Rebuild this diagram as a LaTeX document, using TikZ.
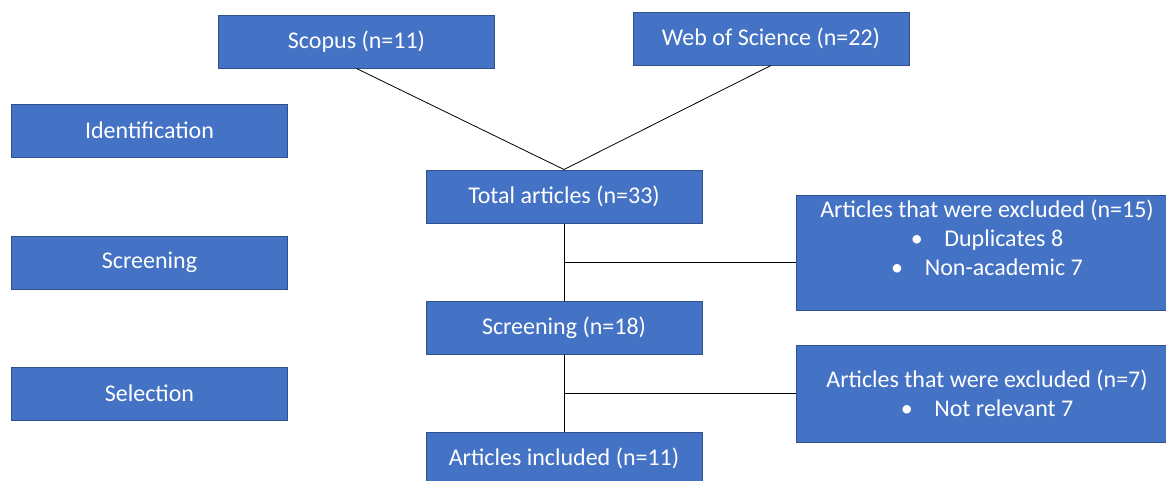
\documentclass[tikz,border=0pt]{standalone}
\usepackage{fontspec}
\setmainfont{Carlito}
\usetikzlibrary{calc}
\definecolor{boxfill}{HTML}{4472C4}
\definecolor{boxline}{HTML}{2F528F}
\begin{document}
\begin{tikzpicture}[x=0.75pt,y=-0.75pt,
  box/.style={draw=boxline,line width=0.75pt,fill=boxfill,text=white,align=center,
    inner sep=0pt,font=\fontsize{18}{21.75}\selectfont},
  std/.style={box,minimum width=207pt,minimum height=39.75pt},
  conn/.style={draw=black,line width=0.6pt}]
\useasboundingbox (0,0) rectangle (1166,480);
\clip (0,0) rectangle (1166,480);
\node[std] (scopus) at (356.5,41.5) {Scopus (n=11)};
\node[std] (wos) at (771,38.5) {Web of Science (n=22)};
\node[std] (ident) at (149.5,130.5) {Identification};
\node[std] (screenL) at (149.5,262.5) {Screening};
\node[std] (select) at (149.5,393.5) {Selection};
\node[std] (total) at (564,196.5) {Total articles (n=33)};
\node[std] (screen) at (564,327.5) {Screening (n=18)};
\node[std] (incl) at (564,458.5) {Articles included (n=11)};
\node[box,minimum width=286.5pt,minimum height=86.25pt] (excl1) at (987,252.5)
  {Articles that were excluded (n=15)\\ \textbullet\hspace{0.9em}Duplicates 8\\ \textbullet\hspace{0.9em}Non-academic 7\\ ~};
\node[box,minimum width=286.5pt,minimum height=72.75pt] (excl2) at (987,393.5)
  {Articles that were excluded (n=7)\\ \textbullet\hspace{0.9em}Not relevant 7};
\draw[conn] (scopus.south) -- (total.north);
\draw[conn] (wos.south) -- (total.north);
\draw[conn] (total.south) -- (screen.north);
\draw[conn] (screen.south) -- (incl.north);
\coordinate (m1) at ($(total.south)!0.5!(screen.north)$);
\coordinate (m2) at ($(screen.south)!0.5!(incl.north)$);
\draw[conn] (m1) -- (excl1.west |- m1);
\draw[conn] (m2) -- (excl2.west |- m2);
\end{tikzpicture}
\end{document}
